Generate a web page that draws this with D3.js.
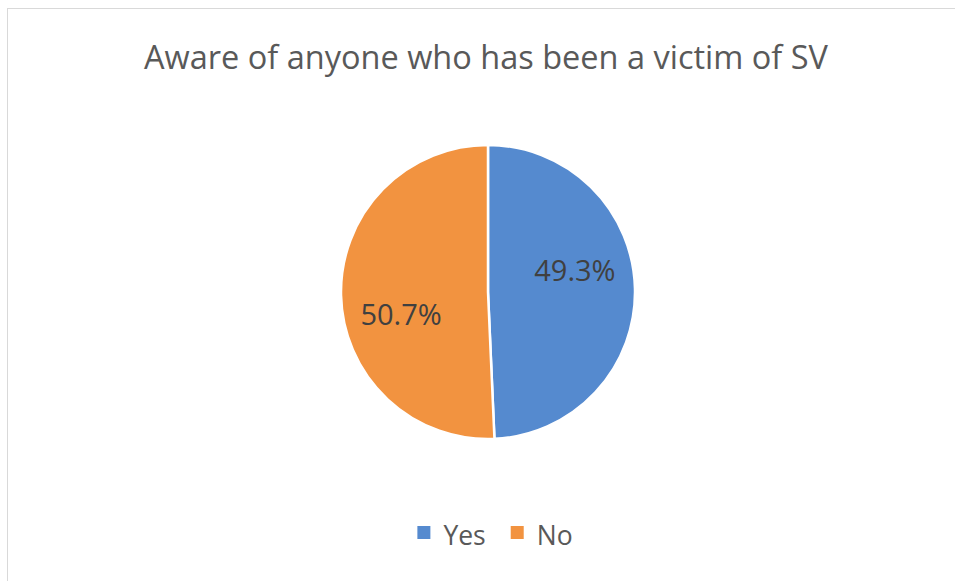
<!DOCTYPE html>
<html>
<head>
<meta charset="utf-8">
<script src="https://cdn.jsdelivr.net/npm/d3@7"></script>
<style>
  html, body { margin: 0; padding: 0; background: #ffffff; }
  svg { display: block; }
  text { font-family: "Open Sans", "Noto Sans", sans-serif; }
</style>
</head>
<body>
<svg id="chart" width="955" height="581"></svg>
<script>
// Survey answers and their shares (percent)
const categories = ["Yes", "No"];
const shares = [49.3, 50.7];
const sliceColors = ["#558ACF", "#F29340"];
const chartTitle = "Aware of anyone who has been a victim of SV";

const width = 955, height = 581;
const svg = d3.select("#chart");

// Chart area frame
svg.append("rect")
  .attr("x", 7.5).attr("y", 8.5)
  .attr("width", 960).attr("height", 600)
  .attr("fill", "#ffffff")
  .attr("stroke", "#D9D9D9")
  .attr("stroke-width", 1);

// Title
svg.append("text")
  .attr("x", 486).attr("y", 69)
  .attr("text-anchor", "middle")
  .attr("fill", "#595959")
  .style("font-size", "32.5px")
  .text(chartTitle);

// Pie
const cx = 488, cy = 292, radius = 147;
const data = categories.map((c, i) => ({ category: c, value: shares[i], color: sliceColors[i] }));

const pie = d3.pie()
  .value(d => d.value)
  .sort(null);

const arc = d3.arc().innerRadius(0).outerRadius(radius);

// Labels sit a bit inside the rim, turned slightly counter-clockwise
const labelShift = -13 * Math.PI / 180;
const labelArc = d3.arc().innerRadius(radius * 0.61).outerRadius(radius * 0.61);

const arcs = pie(data);
const g = svg.append("g").attr("transform", `translate(${cx},${cy})`);

g.selectAll("path.slice")
  .data(arcs)
  .join("path")
  .attr("class", "slice")
  .attr("d", arc)
  .attr("fill", d => d.data.color)
  .attr("stroke", "#ffffff")
  .attr("stroke-width", 2.5)
  .attr("stroke-linejoin", "round");

g.selectAll("text.pct")
  .data(arcs)
  .join("text")
  .attr("class", "pct")
  .attr("transform", d => {
    const shifted = { startAngle: d.startAngle + labelShift, endAngle: d.endAngle + labelShift };
    const [x, y] = labelArc.centroid(shifted);
    return `translate(${x},${y})`;
  })
  .attr("text-anchor", "middle")
  .attr("dy", "0.37em")
  .attr("fill", "#404040")
  .style("font-size", "29px")
  .text(d => d3.format(".1f")(d.data.value) + "%");

// Legend
const legend = svg.append("g");
const swatch = 13, swatchGap = 13, itemGap = 25;
let xPos = 0;
data.forEach((d, i) => {
  const item = legend.append("g").attr("transform", `translate(${xPos},0)`);
  item.append("rect")
    .attr("x", 0).attr("y", -19)
    .attr("width", swatch).attr("height", swatch)
    .attr("fill", d.color);
  const t = item.append("text")
    .attr("x", swatch + swatchGap).attr("y", 0)
    .attr("fill", "#595959")
    .style("font-size", "26.5px")
    .text(d.category);
  const w = t.node().getComputedTextLength();
  xPos += swatch + swatchGap + w + itemGap;
});
const legendWidth = xPos - itemGap;
legend.attr("transform", `translate(${495 - legendWidth / 2},545)`);
</script>
</body>
</html>
